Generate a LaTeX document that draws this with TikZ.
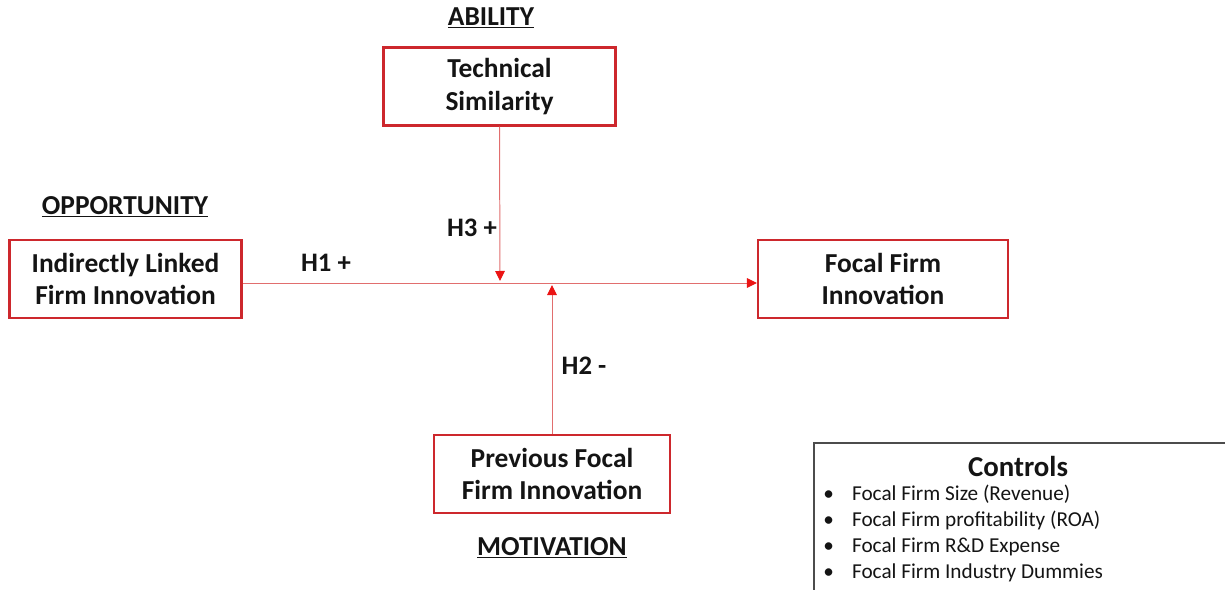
\documentclass[tikz,border=0pt]{standalone}
\usepackage{fontspec}
\setmainfont{Carlito}
\usetikzlibrary{arrows.meta}

\definecolor{boxred}{RGB}{205,40,45}
\definecolor{linkred}{RGB}{225,110,110}
\definecolor{tipred}{RGB}{235,20,20}
\definecolor{txt}{RGB}{20,20,20}

\tikzset{
  box/.style={draw=boxred, line width=1.5pt, minimum height=1.95cm, align=center,
    font=\fontsize{19.5}{23}\selectfont\bfseries, text=txt, inner sep=0pt},
  head/.style={font=\fontsize{19.5}{22}\selectfont\bfseries, text=txt},
  hyp/.style={font=\fontsize{19}{22}\selectfont\bfseries, text=txt},
  link/.style={draw=linkred, line width=0.7pt, -{Triangle[length=0.25cm,width=0.24cm,color=tipred]}},
}

\begin{document}
\begin{tikzpicture}[x=0.025cm, y=-0.025cm]
  \useasboundingbox (0,0) rectangle (1225,590);

  % Headings
  \node[head] (abl) at (491,18) {\underline{ABILITY}};
  \node[head] (opp) at (125,207) {\underline{OPPORTUNITY}};
  \node[head] (mot) at (552,548) {\underline{MOTIVATION}};

  % Constructs
  \node[box, minimum width=5.8cm] (tsim) at (499.5,86.5) {Technical\\Similarity};
  \node[box, minimum width=5.8cm] (ilf) at (125.5,279) {Indirectly Linked\\Firm Innovation};
  \node[box, minimum width=6.25cm] (ffi) at (883,279) {Focal Firm\\Innovation};
  \node[box, minimum width=5.9cm] (pfi) at (552,474) {Previous Focal\\Firm Innovation};

  % Paths
  \coordinate (m3) at (500,281);
  \coordinate (m2) at (552,285);
  \draw[link] ([yshift=-0.1cm]ilf.east) -- ([yshift=-0.1cm]ffi.west);
  \draw[link] (tsim.south) -- (m3);
  \draw[link] (pfi.north) -- (m2);

  % Hypotheses
  \node[hyp] (h1) at (326,263) {H1 +};
  \node[hyp] (h3) at (472,228) {H3 +};
  \node[hyp] (h2) at (584,366) {H2 -};

  % Controls
  \draw[draw=black!70, line width=0.8pt] (814,443) rectangle (1226,610);
  \node[head, font=\fontsize{20.5}{24}\selectfont\bfseries] (ctl) at (1018,466) {Controls};
  \node[anchor=north west, align=left, text=txt, inner sep=0pt,
    font=\fontsize{15.1}{18.5}\selectfont] (cls) at (823,485)
    {\makebox[0.72cm][l]{\textbullet}Focal Firm Size (Revenue)\\
     \makebox[0.72cm][l]{\textbullet}Focal Firm profitability (ROA)\\
     \makebox[0.72cm][l]{\textbullet}Focal Firm R\&D Expense\\
     \makebox[0.72cm][l]{\textbullet}Focal Firm Industry Dummies};
\end{tikzpicture}
\end{document}
